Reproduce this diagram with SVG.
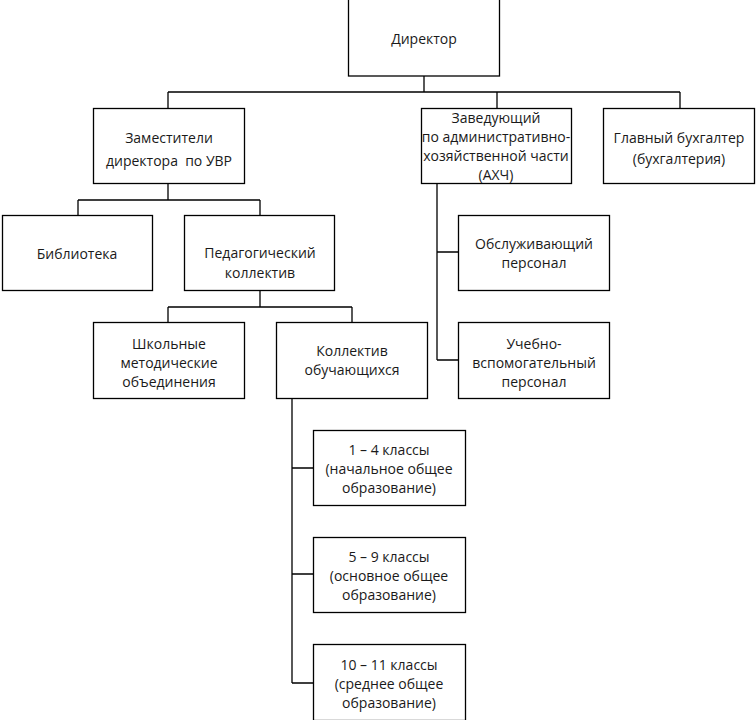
<svg xmlns="http://www.w3.org/2000/svg" width="756" height="720" viewBox="0 0 756 720">
<style>
.b{fill:#fff;stroke:#000;stroke-width:1.3}
.c{fill:none;stroke:#000;stroke-width:1.3}
text{font-family:"Open Sans","DejaVu Sans",sans-serif;font-size:14px;fill:#1a1a1a;text-anchor:middle;dominant-baseline:central}
</style>
<rect width="756" height="720" fill="#fff"/>
<g id="connectors">
<path class="c" d="M424 76V92M168 92H680M168 92V108M497 92V108M680 92V108"/>
<path class="c" d="M168 183V200M78 200H260M78 200V215M260 200V215"/>
<path class="c" d="M260 290V307M168 307H352M168 307V322M352 307V322"/>
<path class="c" d="M437 183V360M437 252H458M437 360H458"/>
<path class="c" d="M292 398V683M292 468H313M292 574H313M292 683H313"/>
</g>
<g id="director"><rect class="b" x="348.5" y="-1" width="151" height="77"/><text x="424" y="38">Директор</text></g>
<g id="zam"><rect class="b" x="93.5" y="108.5" width="151" height="75"/><text x="169" y="137">Заместители</text><text x="169" y="160" xml:space="preserve">директора  по УВР</text></g>
<g id="axch"><rect class="b" x="421.5" y="108.5" width="150" height="75"/><text x="496" y="117">Заведующий</text><text x="496" y="136">по административно-</text><text x="496" y="155">хозяйственной части</text><text x="496" y="174">(АХЧ)</text></g>
<g id="buh"><rect class="b" x="603.5" y="108.5" width="151" height="75"/><text x="679" y="137">Главный бухгалтер</text><text x="679" y="158">(бухгалтерия)</text></g>
<g id="lib"><rect class="b" x="2.5" y="215.5" width="150" height="75"/><text x="77" y="253">Библиотека</text></g>
<g id="ped"><rect class="b" x="184.5" y="215.5" width="150" height="75"/><text x="260" y="252">Педагогический</text><text x="260" y="272">коллектив</text></g>
<g id="obsl"><rect class="b" x="458.5" y="215.5" width="151" height="75"/><text x="534" y="243">Обслуживающий</text><text x="534" y="262">персонал</text></g>
<g id="shmo"><rect class="b" x="93.5" y="322.5" width="151" height="76"/><text x="169" y="343">Школьные</text><text x="169" y="362">методические</text><text x="169" y="381">объединения</text></g>
<g id="uch"><rect class="b" x="276.5" y="322.5" width="151" height="76"/><text x="352" y="350.5">Коллектив</text><text x="352" y="369.5">обучающихся</text></g>
<g id="uvp"><rect class="b" x="458.5" y="322.5" width="151" height="76"/><text x="534" y="343">Учебно-</text><text x="534" y="362">вспомогательный</text><text x="534" y="381">персонал</text></g>
<g id="k14"><rect class="b" x="313.5" y="430.5" width="152" height="75"/><text x="389" y="449">1 – 4 классы</text><text x="389" y="468">(начальное общее</text><text x="389" y="487">образование)</text></g>
<g id="k59"><rect class="b" x="313.5" y="537.5" width="152" height="75"/><text x="389" y="556">5 – 9 классы</text><text x="389" y="575">(основное общее</text><text x="389" y="594">образование)</text></g>
<g id="k1011"><rect class="b" x="313.5" y="644.5" width="152" height="76"/><text x="389" y="664">10 – 11 классы</text><text x="389" y="683">(среднее общее</text><text x="389" y="702">образование)</text></g>
</svg>
